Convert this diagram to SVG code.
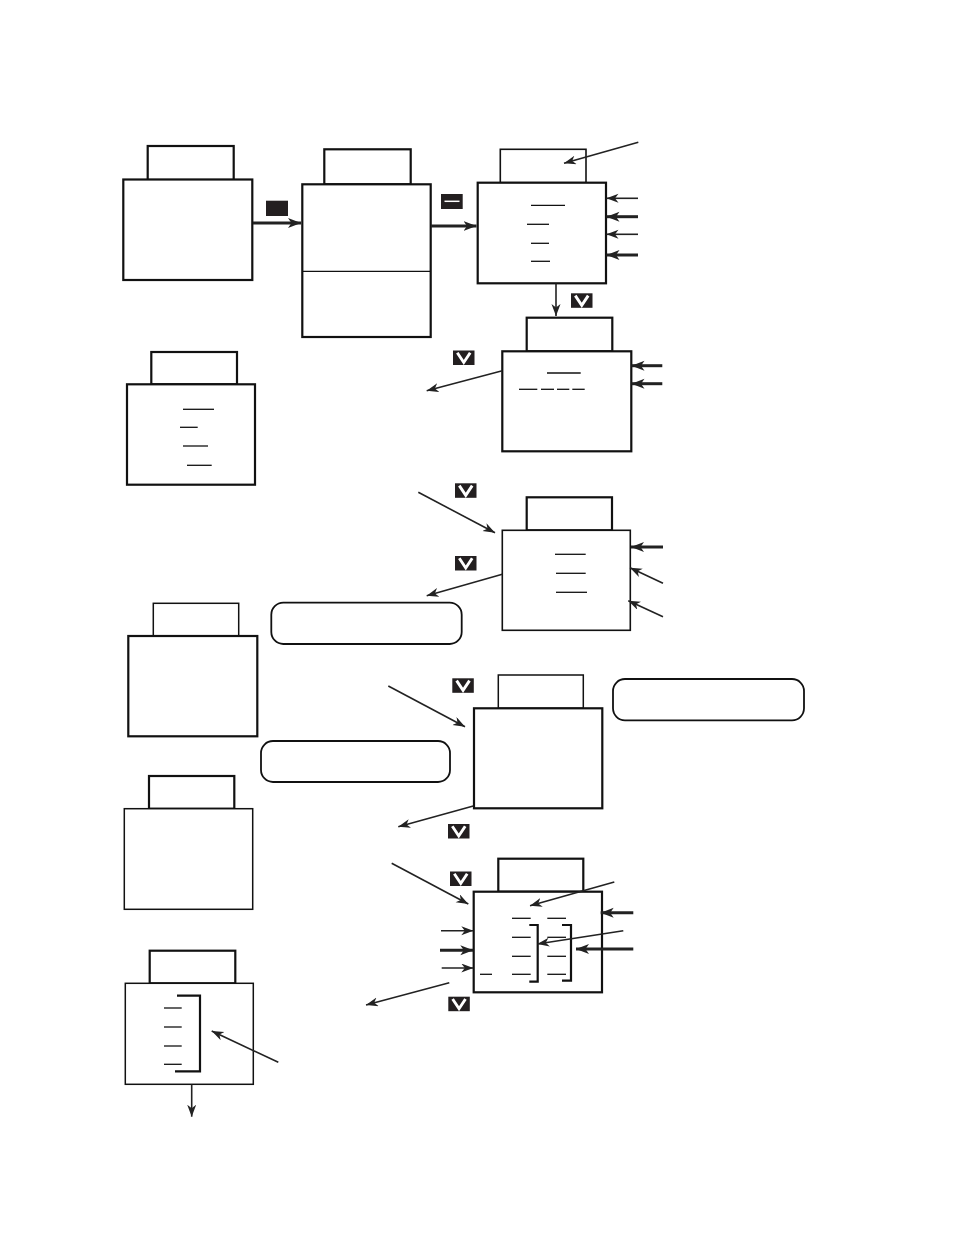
<svg xmlns="http://www.w3.org/2000/svg" xmlns:xlink="http://www.w3.org/1999/xlink" width="954" height="1235" viewBox="0 0 954 1235">
<style>
.box{fill:#fff;stroke:#111;stroke-width:2.2}
.ln{stroke:#111;stroke-width:1.3;fill:none}
.br{stroke:#111;stroke-width:2.2;fill:none}
.pill{fill:#fff;stroke:#111;stroke-width:1.8}
.c{stroke:#222;stroke-width:1.6;fill:none;marker-end:url(#ah)}
.ct{stroke:#222;stroke-width:3;fill:none;marker-end:url(#ah2)}
.btn{fill:#231f20}
</style>
<defs>
<marker id="ah" markerUnits="userSpaceOnUse" markerWidth="13" markerHeight="10" refX="12" refY="4.5" orient="auto">
<path d="M0,0 L12,4.5 L0,9 L3.5,4.5 z" fill="#222"/>
</marker>
<marker id="ah2" markerUnits="userSpaceOnUse" markerWidth="14" markerHeight="11" refX="13" refY="5" orient="auto">
<path d="M0,0 L13,5 L0,10 L3.5,5 z" fill="#222"/>
</marker>
<g id="vb">
<rect class="btn" x="0" y="0" width="21.5" height="14.5"/>
<polyline points="4.3,2.3 10.75,12 17.2,2.3" fill="none" stroke="#fff" stroke-width="2.9"/>
</g>
</defs>

<g id="n1">
<rect class="box" x="147.7" y="146" width="86" height="34"/>
<rect class="box" x="123.3" y="179.5" width="129" height="100.5"/>
</g>
<g id="n2">
<rect class="box" x="324.3" y="149.3" width="86.4" height="35"/>
<rect class="box" x="302.3" y="184.3" width="128.4" height="152.7"/>
<line class="ln" x1="302.3" y1="271.3" x2="430.7" y2="271.3"/>
</g>
<g id="n3">
<rect class="box" x="500.3" y="149.3" width="85.7" height="33.4" style="stroke-width:1.6"/>
<rect class="box" x="477.7" y="182.7" width="128.3" height="100.6"/>
<line class="ln" x1="531" y1="205.3" x2="565" y2="205.3"/>
<line class="ln" x1="527" y1="224.3" x2="549" y2="224.3"/>
<line class="ln" x1="531" y1="243.3" x2="549" y2="243.3"/>
<line class="ln" x1="531" y1="261.3" x2="550" y2="261.3"/>
</g>
<g id="n4">
<rect class="box" x="526.7" y="317.7" width="85.6" height="33.6"/>
<rect class="box" x="502.3" y="351.3" width="129" height="100"/>
<line class="ln" x1="547" y1="373" x2="580.7" y2="373"/>
<line class="ln" x1="519" y1="389.3" x2="537.3" y2="389.3"/>
<line class="ln" x1="541" y1="389.3" x2="554" y2="389.3"/>
<line class="ln" x1="557" y1="389.3" x2="569.3" y2="389.3"/>
<line class="ln" x1="572.3" y1="389.3" x2="584.7" y2="389.3"/>
</g>
<g id="n5">
<rect class="box" x="151.3" y="352" width="85.7" height="32.3"/>
<rect class="box" x="127" y="384.3" width="128" height="100.4"/>
<line class="ln" x1="183" y1="409.3" x2="214" y2="409.3"/>
<line class="ln" x1="180" y1="427.3" x2="197.7" y2="427.3"/>
<line class="ln" x1="183" y1="446" x2="208" y2="446"/>
<line class="ln" x1="187" y1="465.3" x2="211.7" y2="465.3"/>
</g>
<g id="n6">
<rect class="box" x="526.7" y="497.3" width="85.3" height="33"/>
<rect class="box" x="502.3" y="530.3" width="128" height="100" style="stroke-width:1.6"/>
<line class="ln" x1="555" y1="554.3" x2="585.7" y2="554.3"/>
<line class="ln" x1="556" y1="573.3" x2="585.7" y2="573.3"/>
<line class="ln" x1="556" y1="592.3" x2="587" y2="592.3"/>
</g>
<g id="n7">
<rect class="box" x="153.3" y="603.3" width="85.4" height="32.7" style="stroke-width:1.5"/>
<rect class="box" x="128.3" y="636" width="129" height="100.3"/>
</g>
<g id="n8">
<rect class="box" x="498.3" y="675" width="85" height="33.3" style="stroke-width:1.5"/>
<rect class="box" x="474" y="708.3" width="128.3" height="100"/>
</g>
<g id="n9">
<rect class="box" x="149" y="776" width="85.3" height="32.7"/>
<rect class="box" x="124.3" y="808.7" width="128.4" height="100.6" style="stroke-width:1.5"/>
</g>
<g id="n10">
<rect class="box" x="498.3" y="858.7" width="85" height="33"/>
<rect class="box" x="473.7" y="891.7" width="128.3" height="100.6"/>
<line class="ln" x1="512" y1="918.3" x2="530.7" y2="918.3"/>
<line class="ln" x1="512" y1="937.3" x2="530.7" y2="937.3"/>
<line class="ln" x1="512" y1="956.3" x2="530.7" y2="956.3"/>
<line class="ln" x1="512" y1="974.3" x2="530.7" y2="974.3"/>
<line class="ln" x1="547.3" y1="918.3" x2="566" y2="918.3"/>
<line class="ln" x1="547.3" y1="937.3" x2="566" y2="937.3"/>
<line class="ln" x1="547.3" y1="956.3" x2="566" y2="956.3"/>
<line class="ln" x1="547.3" y1="974.3" x2="566" y2="974.3"/>
<line class="ln" x1="480" y1="974.3" x2="492" y2="974.3"/>
<polyline class="br" points="529.3,925 537.7,925 537.7,981.7 529.3,981.7"/>
<polyline class="br" points="562,925 571,925 571,980.7 562,980.7"/>
</g>
<g id="n11">
<rect class="box" x="149.7" y="950.7" width="85.6" height="32.6"/>
<rect class="box" x="125.3" y="983.3" width="128" height="101" style="stroke-width:1.5"/>
<line class="ln" x1="164" y1="1008" x2="181.7" y2="1008"/>
<line class="ln" x1="164" y1="1027" x2="181.7" y2="1027"/>
<line class="ln" x1="164" y1="1046" x2="181.7" y2="1046"/>
<line class="ln" x1="164" y1="1064.3" x2="181.7" y2="1064.3"/>
<polyline class="br" points="177,995.7 200,995.7 200,1071.3 175,1071.3"/>
</g>
<g id="p1"><rect class="pill" x="271.3" y="602.7" width="190.4" height="41.3" rx="12"/></g>
<g id="p2"><rect class="pill" x="613" y="679" width="191" height="41.3" rx="12"/></g>
<g id="p3"><rect class="pill" x="261" y="741" width="189" height="41" rx="12"/></g>

<g id="buttons">
<rect class="btn" x="266" y="200.7" width="22" height="15.3"/>
<rect class="btn" x="441" y="194" width="21.7" height="15"/>
<line x1="444.5" y1="201.3" x2="459.5" y2="201.3" stroke="#fff" stroke-width="1.5"/>
<use xlink:href="#vb" x="571" y="293.3"/>
<use xlink:href="#vb" x="453" y="350.5"/>
<use xlink:href="#vb" x="455" y="483.3"/>
<use xlink:href="#vb" x="455" y="556"/>
<use xlink:href="#vb" x="452.3" y="678.3"/>
<use xlink:href="#vb" x="448" y="824"/>
<use xlink:href="#vb" x="450" y="871.5"/>
<use xlink:href="#vb" x="448.3" y="996.7"/>
</g>

<g id="connectors">
<line class="ct" x1="253" y1="223" x2="301" y2="223"/>
<line class="ct" x1="431" y1="226" x2="476.5" y2="226"/>
<line class="c" x1="638.3" y1="142.3" x2="564" y2="163.3"/>
<line class="c" x1="638" y1="198.3" x2="606.5" y2="198.3"/>
<line class="ct" x1="638" y1="216.7" x2="606.5" y2="216.7"/>
<line class="c" x1="638" y1="234.3" x2="606.5" y2="234.3"/>
<line class="ct" x1="638" y1="255" x2="606.5" y2="255"/>
<line class="c" x1="556" y1="283.5" x2="556" y2="316"/>
<line class="c" x1="502.3" y1="370.7" x2="426.7" y2="390.7"/>
<line class="ct" x1="662.3" y1="365.7" x2="631.5" y2="365.7"/>
<line class="ct" x1="662.3" y1="383.7" x2="631.5" y2="383.7"/>
<line class="c" x1="418.3" y1="492.3" x2="495" y2="532.7"/>
<line class="c" x1="502.3" y1="574.3" x2="426.7" y2="595.7"/>
<line class="ct" x1="663" y1="547" x2="631" y2="547"/>
<line class="c" x1="663" y1="583.3" x2="630" y2="567.7"/>
<line class="c" x1="663" y1="616.7" x2="628.3" y2="600.7"/>
<line class="c" x1="388.3" y1="686" x2="465" y2="726.7"/>
<line class="c" x1="473.3" y1="806" x2="398.3" y2="826.7"/>
<line class="c" x1="391.7" y1="863.3" x2="468.3" y2="904"/>
<line class="c" x1="441" y1="930.7" x2="473.3" y2="930.7"/>
<line class="ct" x1="440" y1="950.3" x2="473.3" y2="950.3"/>
<line class="c" x1="441.7" y1="968" x2="473.3" y2="968"/>
<line class="c" x1="449.3" y1="982.7" x2="366" y2="1005"/>
<line class="c" x1="614.3" y1="882" x2="530" y2="905.7"/>
<line class="ct" x1="633.3" y1="912.7" x2="600.7" y2="912.7"/>
<line class="c" x1="623.3" y1="930.7" x2="537.3" y2="944"/>
<line class="ct" x1="633.3" y1="949" x2="576" y2="949"/>
<line class="c" x1="278.3" y1="1062.3" x2="211.7" y2="1031"/>
<line class="c" x1="191.7" y1="1084.5" x2="191.7" y2="1116.7"/>
</g>
</svg>
